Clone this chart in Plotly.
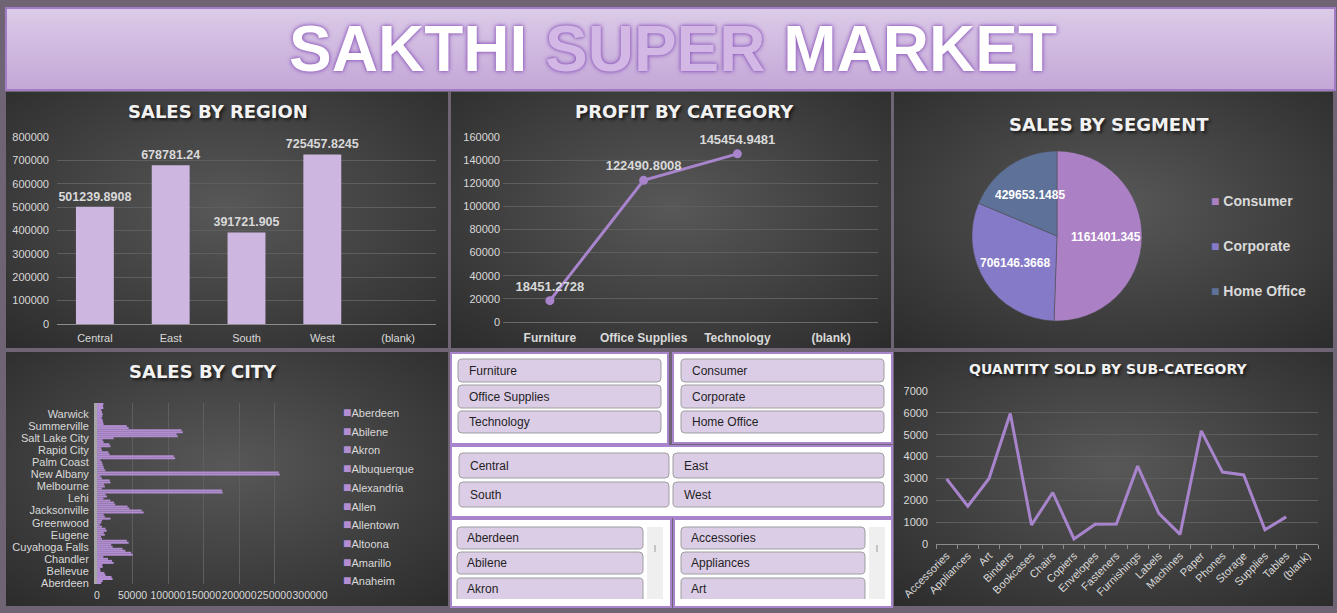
import base64
import math
import plotly.graph_objects as go

# ---- data ----
regions = ["Central", "East", "South", "West"]
region_sales = [501239.8908, 678781.24, 391721.905, 725457.8245]

categories = ["Furniture", "Office Supplies", "Technology"]
category_profit = [18451.2728, 122490.8008, 145454.9481]

segments = ["Consumer", "Corporate", "Home Office"]
segment_sales = [1161401.345, 706146.3668, 429653.1485]

sub_categories = ["Accessories", "Appliances", "Art", "Binders", "Bookcases", "Chairs",
                  "Copiers", "Envelopes", "Fasteners", "Furnishings", "Labels", "Machines",
                  "Paper", "Phones", "Storage", "Supplies", "Tables"]
sub_quantity = [2976, 1729, 3000, 5974, 868, 2356, 234, 906, 914, 3563, 1400, 440,
                5178, 3289, 3158, 647, 1241]

# sales by city, read bottom (Aberdeen) to top
city_sales = [6000, 8000, 22000, 20500, 12000, 10500, 5000, 4500, 8000, 7500,
              23500, 21000, 15500, 9000, 50300, 48000, 40000, 36000, 22000, 20000,
              44600, 42000, 7000, 5500, 11000, 9500, 13600, 12000, 7000, 4000,
              6000, 7000, 19000, 11000, 9500, 65800, 63000, 45600, 43000, 25800,
              24000, 18800, 9000, 14000, 12000, 177000, 176000, 7000, 11000, 10000,
              19000, 18000, 7000, 5000, 257500, 256000, 11750, 10000, 9000, 8000,
              7000, 5000, 110000, 108000, 17800, 16000, 7000, 6000, 19000, 17500,
              9400, 8000, 23500, 113700, 112000, 120800, 119000, 44600, 42000, 9400,
              8500, 8000, 6500, 7500, 8000, 7000, 6000, 9000, 8500, 9000]
city_tick_labels = ["Aberdeen", "Bellevue", "Chandler", "Cuyahoga Falls", "Eugene", "Greenwood",
                    "Jacksonville", "Lehi", "Melbourne", "New Albany", "Palm Coast", "Rapid City",
                    "Salt Lake City", "Summerville", "Warwick"]
city_legend = ["Aberdeen", "Abilene", "Akron", "Albuquerque", "Alexandria", "Allen",
               "Allentown", "Altoona", "Amarillo", "Anaheim"]

BLANK = "(blank)"

# ---- styling ----
W, H = 1337, 613
BG = "#6e6474"
TXT = "#d9d9d9"
GRID = "#5e5e5e"
PURPLE = "#a884cc"
FONT = "Liberation Sans, Arial, sans-serif"
TITLE_FONT = "DejaVu Sans, sans-serif"
seg_colors = ["#ab80c5", "#857ac8", "#5e7299"]
city_color = "#b28dd2"
PIE_CX, PIE_CY, PIE_R = 1057, 236, 85


def fx(px):
    return px / W


def fy(py):
    return 1 - py / H


def svg_uri(svg):
    return "data:image/svg+xml;base64," + base64.b64encode(svg.encode()).decode()


panel_svg = svg_uri(
    "<svg xmlns='http://www.w3.org/2000/svg' width='400' height='240' viewBox='0 0 400 240' "
    "preserveAspectRatio='none'><defs><radialGradient id='g' cx='0.5' cy='0.45' r='0.75'>"
    "<stop offset='0' stop-color='#585858'/><stop offset='1' stop-color='#2b2b2b'/>"
    "</radialGradient></defs><rect width='400' height='240' fill='url(#g)'/></svg>")
banner_svg = svg_uri(
    "<svg xmlns='http://www.w3.org/2000/svg' width='400' height='80' viewBox='0 0 400 80' "
    "preserveAspectRatio='none'><defs><linearGradient id='b' x1='0' y1='0' x2='0' y2='1'>"
    "<stop offset='0' stop-color='#dccbe8'/><stop offset='1' stop-color='#c3a7d7'/>"
    "</linearGradient></defs><rect width='400' height='80' fill='url(#b)'/></svg>")


def image(src, x0, y0, x1, y1):
    return dict(source=src, xref="paper", yref="paper", x=fx(x0), y=fy(y0),
                sizex=(x1 - x0) / W, sizey=(y1 - y0) / H, xanchor="left", yanchor="top",
                sizing="stretch", layer="below")


def rect(x0, y0, x1, y1, fill, line="rgba(0,0,0,0)", width=0):
    return dict(type="rect", xref="paper", yref="paper", x0=fx(x0), y0=fy(y0), x1=fx(x1),
                y1=fy(y1), fillcolor=fill, line=dict(color=line, width=width))


def button(x0, y0, x1, y1, r=4, cut=False):
    p = lambda x, y: f"{fx(x):.5f},{fy(y):.5f}"
    if cut:
        path = (f"M {p(x0, y1)} L {p(x0, y0 + r)} Q {p(x0, y0)} {p(x0 + r, y0)} "
                f"L {p(x1 - r, y0)} Q {p(x1, y0)} {p(x1, y0 + r)} L {p(x1, y1)}")
    else:
        path = (f"M {p(x0 + r, y0)} L {p(x1 - r, y0)} Q {p(x1, y0)} {p(x1, y0 + r)} "
                f"L {p(x1, y1 - r)} Q {p(x1, y1)} {p(x1 - r, y1)} L {p(x0 + r, y1)} "
                f"Q {p(x0, y1)} {p(x0, y1 - r)} L {p(x0, y0 + r)} Q {p(x0, y0)} {p(x0 + r, y0)} Z")
    return dict(type="path", xref="paper", yref="paper", path=path, fillcolor="#dccde7",
                line=dict(color="#9e9e9e", width=1))


def label(text, x, y, size=12, color="#1f1f1f", xanchor="left", **kw):
    return dict(text=text, x=fx(x), y=fy(y), xref="paper", yref="paper", showarrow=False,
                xanchor=xanchor, yanchor="middle", font=dict(family=FONT, size=size, color=color, **kw))


def panel_title(text, x, y, size=18):
    return dict(text=text, x=fx(x), y=fy(y), xref="paper", yref="paper", showarrow=False,
                xanchor="center", yanchor="middle",
                font=dict(family=TITLE_FONT, size=size, color="#f2f2f2", weight="bold",
                          shadow="2px 2px 3px #1a1a1a"))


fig = go.Figure()

# sales by region
fig.add_trace(go.Bar(
    x=regions + [BLANK], y=region_sales + [None], xaxis="x", yaxis="y", width=0.5,
    marker=dict(color="#cdb6df", line=dict(width=0)),
    text=[str(v) for v in region_sales] + [""], textposition="outside", cliponaxis=False,
    constraintext="none", textfont=dict(family=FONT, size=12.5, color=TXT, weight="bold"),
))

# profit by category
fig.add_trace(go.Scatter(
    x=categories + [BLANK], y=category_profit + [None], xaxis="x2", yaxis="y2",
    mode="lines+markers+text", line=dict(color=PURPLE, width=3), marker=dict(color=PURPLE, size=9),
    text=[str(v) for v in category_profit] + [""], textposition="top center", cliponaxis=False,
    textfont=dict(family=FONT, size=13, color=TXT, weight="bold"),
))

# sales by city
fig.add_trace(go.Bar(
    x=city_sales, y=list(range(len(city_sales))), orientation="h", xaxis="x3", yaxis="y3",
    width=1, marker=dict(color=city_color, line=dict(width=0)),
))

# quantity by sub-category
fig.add_trace(go.Scatter(
    x=sub_categories + [BLANK], y=sub_quantity + [None], xaxis="x4", yaxis="y4", mode="lines",
    line=dict(color=PURPLE, width=3),
))

# sales by segment
fig.add_trace(go.Pie(
    labels=segments, values=segment_sales, sort=False, direction="clockwise", rotation=0,
    domain=dict(x=[fx(PIE_CX - PIE_R), fx(PIE_CX + PIE_R)],
                y=[fy(PIE_CY + PIE_R), fy(PIE_CY - PIE_R)]),
    marker=dict(colors=seg_colors, line=dict(color="#4a4a4a", width=0.5)),
    textinfo="none",
))

tick = dict(family=FONT, size=11, color=TXT)
yax = dict(gridcolor=GRID, zeroline=False, showline=False, tickformat="d", tickfont=tick,
           ticks="", automargin=False)
cat_x = dict(type="category", showgrid=False, showline=True, linecolor="#8c8c8c",
             tickfont=tick, automargin=False)

fig.update_layout(
    width=W, height=H, margin=dict(l=0, r=0, t=0, b=0, pad=0, autoexpand=False),
    paper_bgcolor=BG, plot_bgcolor="rgba(0,0,0,0)", showlegend=False,
    font=dict(family=FONT, color=TXT),
    xaxis=dict(domain=[fx(57), fx(436)], anchor="y", range=[-0.5, len(regions) + 0.5],
               ticklabelstandoff=4, **cat_x),
    yaxis=dict(domain=[fy(324), fy(137)], anchor="x", range=[0, 800000], dtick=100000,
               ticklabelstandoff=7, **yax),
    xaxis2=dict(domain=[fx(503), fx(878)], anchor="y2", range=[-0.5, len(categories) + 0.5],
                ticklabelstandoff=5, **{**cat_x, "linecolor": "#6a6a6a",
                "tickfont": dict(family=FONT, size=12, color=TXT, weight="bold")}),
    yaxis2=dict(domain=[fy(322), fy(137)], anchor="x2", range=[0, 160000], dtick=20000,
                ticklabelstandoff=2, **yax),
    xaxis3=dict(domain=[fx(97), fx(310)], anchor="y3", range=[0, 300000], dtick=50000,
                gridcolor=GRID, zeroline=False, tickformat="d", tickangle=0, automargin=False,
                ticklabelstandoff=3, tickfont=dict(family=FONT, size=10.5, color=TXT)),
    yaxis3=dict(domain=[fy(584), fy(403)], anchor="x3", range=[-0.5, len(city_sales) - 0.5],
                tickvals=[i * 6 for i in range(len(city_tick_labels))], ticktext=city_tick_labels,
                showgrid=False, zeroline=False, showline=True, linewidth=3, linecolor="#a6a6a6",
                tickfont=tick, ticks="", automargin=False, ticklabelstandoff=3),
    xaxis4=dict(domain=[fx(936), fx(1318)], anchor="y4", range=[-0.5, len(sub_categories) + 0.5],
                tickangle=-45, ticks="outside", tickson="boundaries", ticklen=4,
                tickcolor="#8c8c8c", **cat_x),
    yaxis4=dict(domain=[fy(544), fy(391)], anchor="x4", range=[0, 7000], dtick=1000,
                ticklabelstandoff=7, **yax),
)

# backgrounds
panels = [(6, 92, 448, 348), (451, 92, 891, 348), (894, 92, 1333, 348),
          (6, 352, 448, 606), (894, 352, 1333, 606)]
images = [image(banner_svg, 6, 8, 1335, 90)] + [image(panel_svg, *p) for p in panels]

shapes = [rect(6, 8, 1335, 90, "rgba(0,0,0,0)", "#a27cc4", 2)]

# slicers
boxes = [(451, 353, 668, 444), (673, 353, 892, 443), (451, 446, 892, 517),
         (451, 519, 671, 607), (674, 519, 892, 607)]
for b in boxes:
    shapes.append(rect(*b, "white", PURPLE, 2))

annotations = []
rows = [(359, 382), (385, 408), (411, 433)]
for (lst, x0, x1) in [(categories, 458, 661), (segments, 681, 884)]:
    for name, (y0, y1) in zip(lst, rows):
        shapes.append(button(x0, y0, x1, y1))
        annotations.append(label(name, x0 + 9, (y0 + y1) / 2))

reg_cells = [(459, 453, 669, 478), (673, 453, 884, 478), (459, 482, 669, 507), (673, 482, 884, 507)]
for name, (x0, y0, x1, y1) in zip(regions, reg_cells):
    shapes.append(button(x0, y0, x1, y1))
    annotations.append(label(name, x0 + 9, (y0 + y1) / 2))

list_rows = [(527, 549), (552, 574), (578, 599)]
for (lst, x0, x1, sx) in [(city_legend, 457, 643, 647), (sub_categories, 681, 865, 869)]:
    for k, (name, (y0, y1)) in enumerate(zip(lst, list_rows)):
        shapes.append(button(x0, y0, x1, y1, cut=(k == 2)))
        annotations.append(label(name, x0 + 8, y0 + 11))
    shapes.append(rect(sx, 527, sx + 16, 599, "#efefef"))
    shapes.append(dict(type="line", xref="paper", yref="paper", x0=fx(sx + 8), x1=fx(sx + 8),
                       y0=fy(545), y1=fy(552), line=dict(color="#9a9a9a", width=1)))

# pie data labels at the middle of each slice
total = sum(segment_sales)
cum = 0
for v in segment_sales:
    mid = (cum + v / total / 2) * 2 * math.pi
    cum += v / total
    annotations.append(label(str(v), PIE_CX + 0.58 * PIE_R * math.sin(mid),
                             PIE_CY - 0.58 * PIE_R * math.cos(mid), size=12, color="white",
                             xanchor="center", weight="bold"))

# titles
annotations.append(dict(
    text="SAKTHI <span style='color:#d3b8e6'>SUPER</span> MARKET", x=fx(673), y=fy(49),
    xref="paper", yref="paper", showarrow=False, xanchor="center", yanchor="middle",
    font=dict(family=FONT, size=64, color="white", weight="bold",
              shadow="0px 0px 3px #8f5bbd, 0px 0px 5px #8f5bbd")))
annotations += [
    panel_title("SALES BY REGION", 218, 111),
    panel_title("PROFIT BY CATEGORY", 684, 111),
    panel_title("SALES BY SEGMENT", 1109, 124),
    panel_title("SALES BY CITY", 203, 371),
    panel_title("QUANTITY SOLD BY SUB-CATEGORY", 1108, 369, size=14),
]

# legends
for k, name in enumerate(segments):
    annotations.append(label(f"<span style='color:{seg_colors[k]}'>■</span> {name}",
                             1209, 201 + 45 * k, size=14, color=TXT, weight="bold"))
for k, name in enumerate(city_legend):
    annotations.append(label(f"<span style='color:{city_color};font-size:14px'>■</span>{name}",
                             341, 412 + 18.7 * k, size=11, color=TXT))

fig.update_layout(images=images, shapes=shapes, annotations=annotations)

fig.write_html("out.html", config={"displayModeBar": False},
               post_script="document.body.style.margin = '0px';")
